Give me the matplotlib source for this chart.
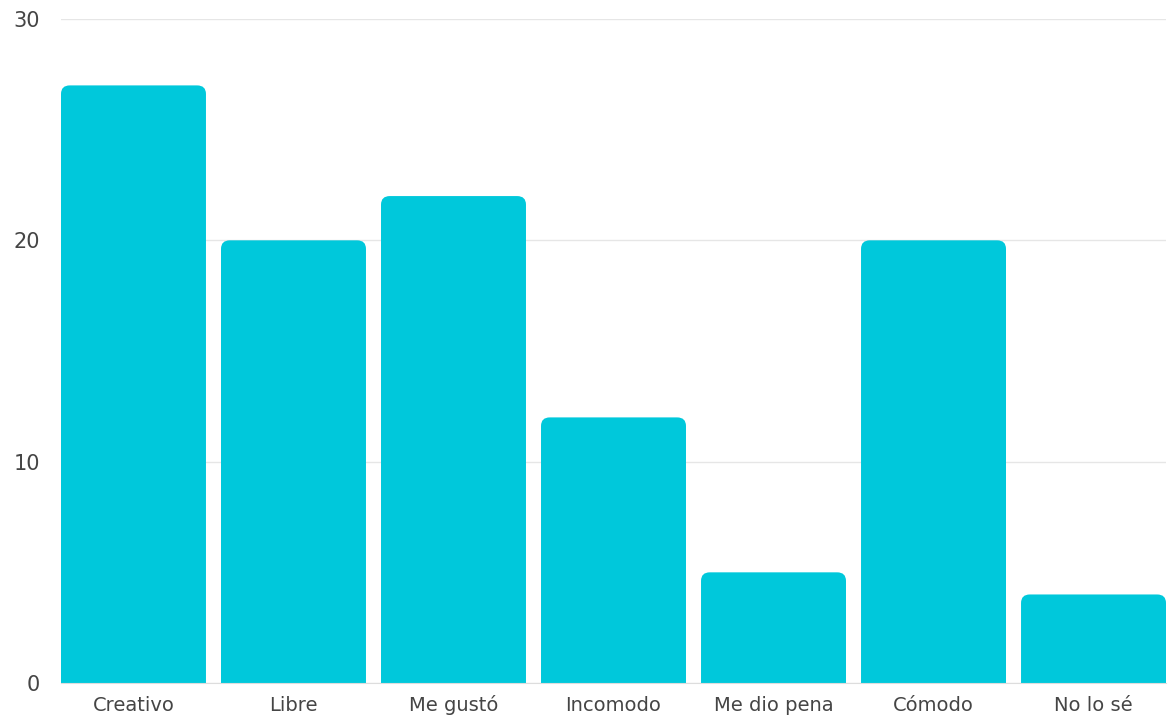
import matplotlib.pyplot as plt
from matplotlib.patches import FancyBboxPatch

categories = ['Creativo', 'Libre', 'Me gustó', 'Incomodo', 'Me dio pena', 'Cómodo', 'No lo sé']
values = [27, 20, 22, 12, 5, 20, 4]
y_ticks = [0, 10, 20, 30]

bar_color = '#00C8DB'
text_color = '#454545'

plt.rcParams['font.family'] = ['DejaVu Sans']

fig = plt.figure(figsize=(11.75, 7.19), dpi=100)
ax = fig.add_axes([61 / 1175, 36 / 719, 1105 / 1175, 664 / 719])

width = 0.906
bars = ax.bar(range(len(categories)), values, width=width, color=bar_color, zorder=2)

# swap plain rectangles for rounded-top ones (bottom pushed under the axis)
for b in bars:
    x, h = b.get_x(), b.get_height()
    b.set_visible(False)
    patch = FancyBboxPatch((x, -2), width, h + 2,
                           boxstyle='round,pad=0,rounding_size=0.055',
                           mutation_aspect=7.0,
                           facecolor=bar_color, edgecolor='none', zorder=2)
    ax.add_patch(patch)

ax.set_xlim(-width / 2, len(categories) - 1 + width / 2)
ax.set_ylim(0, 30)
ax.set_yticks(y_ticks)
ax.set_xticks(range(len(categories)))
ax.set_xticklabels(categories, va='baseline')

ax.grid(axis='y', color='#e6e6e6', linewidth=1.0, zorder=0)
for s in ['top', 'right', 'left']:
    ax.spines[s].set_visible(False)
ax.spines['bottom'].set_color('#dddddd')
ax.spines['bottom'].set_zorder(3)
ax.tick_params(axis='x', length=0, labelsize=14, colors=text_color, pad=20)
ax.tick_params(axis='y', length=0, labelsize=15, colors=text_color, pad=15)

fig.savefig('out.png', dpi=100, facecolor='white')
